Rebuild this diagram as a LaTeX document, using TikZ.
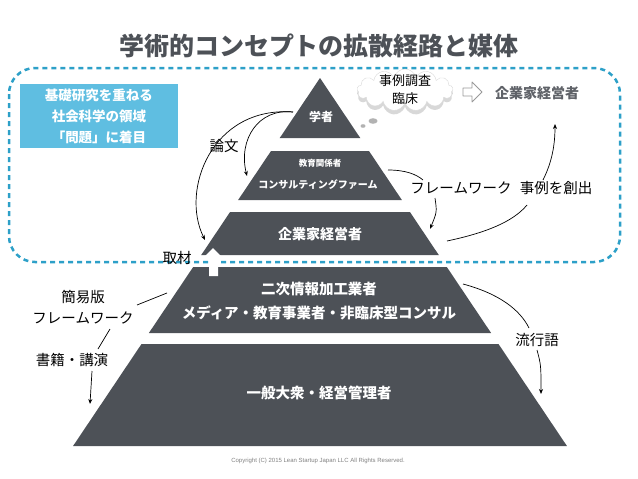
\documentclass[tikz,border=0pt]{standalone}
\usepackage{fontspec}
\setmainfont{Liberation Sans}
\newfontfamily\jp{Noto Sans CJK JP}
\usetikzlibrary{arrows.meta,positioning,shapes,shadows}

\definecolor{pyrgray}{RGB}{77,81,87}
\definecolor{dashblue}{RGB}{45,160,200}
\definecolor{boxblue}{RGB}{95,190,225}

\begin{document}
\begin{tikzpicture}[x=1pt,y=-1pt,
    lay/.style={text=white,font=\jp\bfseries\fontsize{14.5}{24}\selectfont,align=center},
    lbl/.style={font=\jp\fontsize{14.5}{21}\selectfont,align=center,inner sep=1pt},
    arr/.style={-{Stealth[length=5pt,width=4pt]},line width=0.7pt},
    lin/.style={line width=0.7pt}]
  \useasboundingbox (0,0) rectangle (638,479);
  \node[text=pyrgray,font=\jp\bfseries\fontsize{25}{30}\selectfont] (title) at (319,46) {学術的コンセプトの拡散経路と媒体};
  \draw[dashblue,line width=2.5pt,dash pattern=on 5pt off 4pt,rounded corners=26pt] (9,68) rectangle (620,262);

  % pyramid layers
  \foreach \t/\b in {78/138,151/200,212/255,267/333,344/446}
    \fill[pyrgray] ({320-0.671*(\t-78)},\t) -- ({320+0.671*(\t-78)},\t) -- ({320+0.671*(\b-78)},\b) -- ({320-0.671*(\b-78)},\b) -- cycle;
  \node[lay,font=\jp\bfseries\fontsize{12}{14}\selectfont] (gakusha) at (321,117) {学者};
  \node[lay,font=\jp\bfseries\fontsize{8.5}{10}\selectfont] (kyoiku) at (320,163) {教育関係者};
  \node[lay,font=\jp\bfseries\fontsize{10}{12}\selectfont] (consul) at (318,185) {コンサルティングファーム};
  \node[lay,font=\jp\bfseries\fontsize{14}{16}\selectfont] (kigyo) at (320,234) {企業家経営者};
  \node[lay] (niji) at (319,301) {二次情報加工業者\\メディア・教育事業者・非臨床型コンサル};
  \node[lay] (ippan) at (319,393) {一般大衆・経営管理者};

  \node[fill=boxblue,minimum width=158pt,minimum height=64pt,text=white,font=\jp\bfseries\fontsize{13.5}{21}\selectfont,align=center] (kiso) at (99,116) {基礎研究を重ねる\\社会科学の領域\\「問題」に着目};

  % cloud and outside entrepreneurs
  \node[cloud,cloud puffs=13,aspect=2.4,inner sep=0pt,minimum width=96pt,minimum height=42pt,fill=white,draw=gray!30,
        drop shadow={shadow xshift=0pt,shadow yshift=-4pt,fill=gray!60}] (cloud) at (405,90) {};
  \node[lbl,font=\jp\fontsize{13}{18}\selectfont] (jirei) at (cloud) {事例調査\\臨床};
  \fill[gray!60] (373,121) ellipse (4.5pt and 2.8pt) (363,126) ellipse (2.5pt and 1.8pt);
  \draw[gray!80,fill=white,line width=0.8pt,line join=round] (463,88) -- (472,88) -- (472,82) -- (482,92) -- (472,102) -- (472,96) -- (463,96) -- cycle;
  \node[text=pyrgray!90,font=\jp\bfseries\fontsize{14}{16}\selectfont] (kigyo2) at (537,93) {企業家経営者};

  % labels
  \node[lbl] (ronbun) at (224,146) {論文};
  \node[lbl] (shuzai) at (177,258) {取材};
  \node[lbl] (fw) at (461,188) {フレームワーク};
  \node[lbl] (sousyutsu) at (556,188) {事例を創出};
  \node[lbl] (kani) at (83,307) {簡易版\\フレームワーク};
  \node[lbl] (shoseki) at (72,360) {書籍・講演};
  \node[lbl] (ryuko) at (537,340) {流行語};

  % white arrow for 取材
  \fill[white] (213,248) -- (223,258) -- (218,258) -- (218,276) -- (209,276) -- (209,258) -- (203,258) -- cycle;

  % connectors
  \coordinate (gk) at (293,112);
  \coordinate (kyo) at (247,176);
  \coordinate (kig) at (205,240);
  \draw[arr] (gk) .. controls (258,108) and (238,140) .. (kyo);
  \draw[arr] (gk) .. controls (212,106) and (180,190) .. (kig);

  \coordinate (con) at (388,170);
  \coordinate (fw-in) at (423,180);
  \coordinate (kig-r) at (430,229);
  \draw[lin] (con) .. controls (405,170) and (416,174) .. (fw-in);
  \draw[arr] (435,198) .. controls (437,212) .. (kig-r);

  \coordinate (kig-e) at (447,241);
  \coordinate (so-in) at (527,205);
  \coordinate (so-out) at (543,180);
  \coordinate (k2) at (555,124);
  \draw[lin] (kig-e) .. controls (485,233) and (513,222) .. (so-in);
  \draw[arr] (so-out) .. controls (552,162) and (555,145) .. (k2);

  \coordinate (niji-w) at (167,293);
  \coordinate (kani-e) at (137,305);
  \coordinate (kani-s) at (110,329);
  \coordinate (sho-n) at (98,349);
  \coordinate (sho-s) at (92,371);
  \coordinate (ippan-w) at (90,404);
  \draw[lin] (kani-e) -- (niji-w);
  \draw[lin] (kani-s) -- (sho-n);
  \draw[arr] (sho-s) -- (ippan-w);

  \coordinate (niji-e) at (463,284);
  \coordinate (ryu-n) at (529,328);
  \coordinate (ryu-s) at (537,350);
  \coordinate (ippan-e) at (541,394);
  \draw[lin] (niji-e) .. controls (500,294) and (520,310) .. (ryu-n);
  \draw[arr] (ryu-s) .. controls (541,365) .. (ippan-e);

  \node[text=gray,font=\fontsize{6}{7}\selectfont] (copy) at (318,461) {Copyright (C) 2015 Lean Startup Japan LLC All Rights Reserved.};
\end{tikzpicture}
\end{document}
